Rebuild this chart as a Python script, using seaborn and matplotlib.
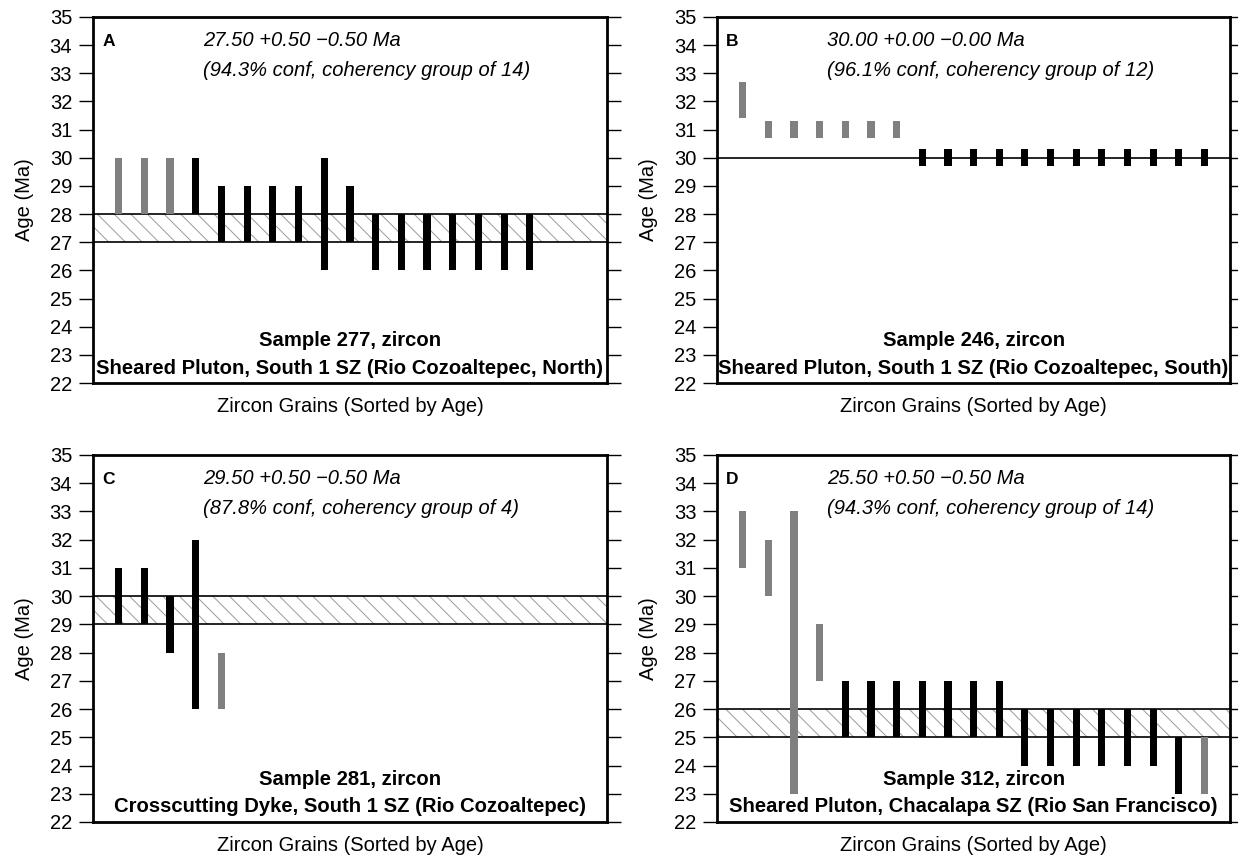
import numpy as np
import pandas as pd
import matplotlib
matplotlib.use('Agg')
import matplotlib.pyplot as plt
import seaborn as sns

# grain age ranges (Ma), one entry per zircon grain, sorted by age
A_lo = [28, 28, 28, 28, 27, 27, 27, 27, 26, 27, 26, 26, 26, 26, 26, 26, 26]
A_hi = [30, 30, 30, 30, 29, 29, 29, 29, 30, 29, 28, 28, 28, 28, 28, 28, 28]
A_out = [1, 1, 1, 0, 0, 0, 0, 0, 0, 0, 0, 0, 0, 0, 0, 0, 0]

B_lo = [31.4, 30.7, 30.7, 30.7, 30.7, 30.7, 30.7] + [29.7] * 12
B_hi = [32.7, 31.3, 31.3, 31.3, 31.3, 31.3, 31.3] + [30.3] * 12
B_out = [1, 1, 1, 1, 1, 1, 1] + [0] * 12

C_lo = [29, 29, 28, 26, 26]
C_hi = [31, 31, 30, 32, 28]
C_out = [0, 0, 0, 0, 1]

D_lo = [31, 30, 23, 27] + [25] * 7 + [24] * 6 + [23, 23]
D_hi = [33, 32, 33, 29] + [27] * 7 + [26] * 6 + [25, 25]
D_out = [1, 1, 1, 1] + [0] * 14 + [1]

# coherent age band (lower, upper)
bands = {'A': (27, 28), 'B': (30, 30), 'C': (29, 30), 'D': (25, 26)}

ages = {'A': '27.50 +0.50 \u22120.50 Ma', 'B': '30.00 +0.00 \u22120.00 Ma',
        'C': '29.50 +0.50 \u22120.50 Ma', 'D': '25.50 +0.50 \u22120.50 Ma'}
confs = {'A': '(94.3% conf, coherency group of 14)',
         'B': '(96.1% conf, coherency group of 12)',
         'C': '(87.8% conf, coherency group of 4)',
         'D': '(94.3% conf, coherency group of 14)'}
samples = {'A': 'Sample 277, zircon', 'B': 'Sample 246, zircon',
           'C': 'Sample 281, zircon', 'D': 'Sample 312, zircon'}
places = {'A': 'Sheared Pluton, South 1 SZ (Rio Cozoaltepec, North)',
          'B': 'Sheared Pluton, South 1 SZ (Rio Cozoaltepec, South)',
          'C': 'Crosscutting Dyke, South 1 SZ (Rio Cozoaltepec)',
          'D': 'Sheared Pluton, Chacalapa SZ (Rio San Francisco)'}

grains = {'A': (A_lo, A_hi, A_out), 'B': (B_lo, B_hi, B_out),
          'C': (C_lo, C_hi, C_out), 'D': (D_lo, D_hi, D_out)}

sns.set_theme(style='ticks')
plt.rcParams['font.family'] = ['Liberation Sans', 'DejaVu Sans']
plt.rcParams['hatch.linewidth'] = 0.7
plt.rcParams['text.color'] = 'black'
plt.rcParams['axes.labelcolor'] = 'black'
plt.rcParams['ytick.color'] = 'black'
plt.rcParams['ytick.labelcolor'] = 'black'

fig = plt.figure(figsize=(12.38, 8.58), dpi=100)

boxes = {'A': [0.0751, 0.5536, 0.4152, 0.4266],
         'B': [0.5792, 0.5536, 0.4144, 0.4266],
         'C': [0.0751, 0.0420, 0.4152, 0.4277],
         'D': [0.5792, 0.0420, 0.4144, 0.4277]}

for key, box in boxes.items():
    ax = fig.add_axes(box)
    lo, hi, out = grains[key]
    df = pd.DataFrame({'grain': np.arange(1, len(lo) + 1), 'lo': lo, 'hi': hi, 'out': out})
    df['span'] = df['hi'] - df['lo']

    # coherency band
    b_lo, b_hi = bands[key]
    if b_hi > b_lo:
        ax.axhspan(b_lo, b_hi, facecolor='none', edgecolor='#9a9a9a', hatch='\\\\',
                   linewidth=0, zorder=1)
        ax.axhline(b_lo, color='black', lw=1.2, zorder=1.5)
    ax.axhline(b_hi, color='black', lw=1.2, zorder=1.5)

    # grains: grey = rejected, black = in coherency group
    for flag, col in [(1, '#808080'), (0, 'black')]:
        sub = df[df['out'] == flag]
        if len(sub) == 0:
            continue
        sns.barplot(x=sub['grain'].values, y=sub['span'].values, bottom=sub['lo'].values,
                    native_scale=True, width=0.28, color=col, saturation=1,
                    errorbar=None, linewidth=0, zorder=2, ax=ax)

    ax.set_xlim(0, 20)
    ax.set_ylim(22, 35)
    ax.set_yticks(range(22, 36))
    ax.set_xticks([])
    ax.tick_params(axis='y', which='both', direction='out', length=10, width=1,
                   color='black', labelcolor='black', labelsize=14.5, pad=5,
                   left=True, right=True, labelleft=True, labelright=False)
    for sp in ax.spines.values():
        sp.set_visible(True)
        sp.set_linewidth(2)
        sp.set_color('black')
    ax.set_ylabel('Age (Ma)', fontsize=14.5, labelpad=11, color='black')
    ax.set_xlabel('Zircon Grains (Sorted by Age)', fontsize=14.5, labelpad=10, color='black')

    ax.text(0.018, 0.934, key, transform=ax.transAxes, fontsize=12.5, fontweight='bold',
            va='center', ha='left')
    ax.text(0.215, 0.937, ages[key], transform=ax.transAxes, fontsize=14.5,
            style='italic', va='center', ha='left')
    ax.text(0.215, 0.855, confs[key], transform=ax.transAxes, fontsize=14.5,
            style='italic', va='center', ha='left')
    ax.text(0.5, 0.117, samples[key], transform=ax.transAxes, fontsize=14.6,
            fontweight='bold', va='center', ha='center')
    ax.text(0.5, 0.041, places[key], transform=ax.transAxes, fontsize=14.6,
            fontweight='bold', va='center', ha='center')

fig.savefig('out.png', dpi=100)
